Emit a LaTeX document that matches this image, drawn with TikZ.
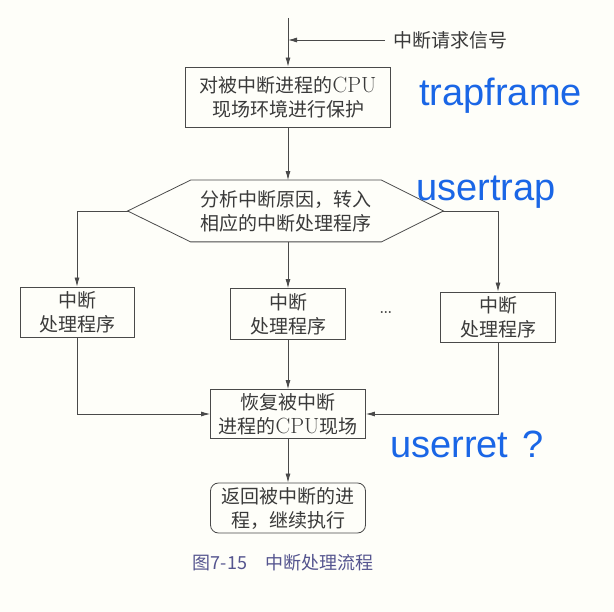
\documentclass[tikz,border=0pt]{standalone}
\usepackage{fontspec}
\newfontfamily\cjk{Noto Sans CJK SC}
\newfontfamily\handfont{Liberation Sans}
\usetikzlibrary{arrows.meta,positioning,calc}
\definecolor{inkc}{HTML}{3A3A3A}
\definecolor{linec}{HTML}{4A4A4A}
\definecolor{penc}{HTML}{1A66E6}
\definecolor{capc}{HTML}{55558F}
\definecolor{paperc}{HTML}{FEFEF9}
\newcommand{\cpu}{{\rmfamily\fontsize{22}{24}\selectfont CPU}}

\begin{document}
\begin{tikzpicture}[x=1pt, y=-1pt,
  box/.style={draw=linec, line width=0.8pt, align=center, text=inkc,
    font=\cjk\fontsize{19}{24}\selectfont, inner sep=0pt},
  arr/.style={-{Latex[length=9pt,width=5pt]}, draw=linec, line width=0.8pt},
  lbl/.style={text=inkc, font=\cjk\fontsize{19}{24}\selectfont, inner sep=0pt},
  pen/.style={text=penc, font=\handfont\fontsize{38}{40}\selectfont, anchor=west, inner sep=0pt}
]
  \useasboundingbox[fill=paperc] (0,0) rectangle (614,612);

  \coordinate (in) at (288,18);
  \node[box, minimum width=205, minimum height=60] (prot) at (288,97)
    {对被中断进程的\cpu\\现场环境进行保护};
  \node[lbl, anchor=west] (sig) at (393,40) {中断请求信号};

  % hexagon: text node plus drawn outline
  \node[box, draw=none, minimum width=190, minimum height=61] (ana) at (286,211)
    {分析中断原因，转入\\相应的中断处理程序};
  \coordinate (anaL) at ([xshift=-63pt]ana.west);
  \coordinate (anaR) at ([xshift=62pt]ana.east);
  \draw[draw=linec, line width=0.8pt] (ana.north west) -- (ana.north east) -- (anaR)
    -- (ana.south east) -- (ana.south west) -- (anaL) -- cycle;

  \node[box, minimum width=114, minimum height=50] (h1) at (77,312) {中断\\处理程序};
  \node[box, minimum width=115, minimum height=51] (h2) at (288,314) {中断\\处理程序};
  \node[box, minimum width=115, minimum height=50] (h3) at (498,317) {中断\\处理程序};
  \node[lbl, font=\rmfamily\fontsize{24}{24}\selectfont] (dots) at (386,313) {\dots};

  \node[box, minimum width=155, minimum height=49] (rest) at (288,414)
    {恢复被中断\\进程的\cpu 现场};
  \node[box, rounded corners=8pt, minimum width=155, minimum height=50] (ret) at (288,508)
    {返回被中断的进\\程，继续执行};

  \node[text=capc, font=\cjk\fontsize{18}{20}\selectfont, inner sep=0pt] (cap) at (283,563)
    {图7-15\hspace{18pt}中断处理流程};

  \node[pen] (tf) at (419,96) {trapframe};
  \node[pen] (ut) at (416,192) {usertrap};
  \node[pen] (ur) at (390,444) {userret\hspace{14pt}?};

  \draw[arr] (in) -- (prot);
  \draw[arr] ([xshift=-8pt]sig.west) -- (sig.west -| prot.north);
  \draw[arr] (prot) -- (prot |- ana.north);
  \draw[arr] (anaL) -| (h1);
  \draw[arr] (ana.south -| h2) -- (h2);
  \draw[arr] (anaR) -| (h3);
  \draw[arr] (h1) |- (rest);
  \draw[arr] (h2) -- (rest);
  \draw[arr] (h3) |- (rest);
  \draw[arr] (rest) -- (ret);
\end{tikzpicture}
\end{document}
